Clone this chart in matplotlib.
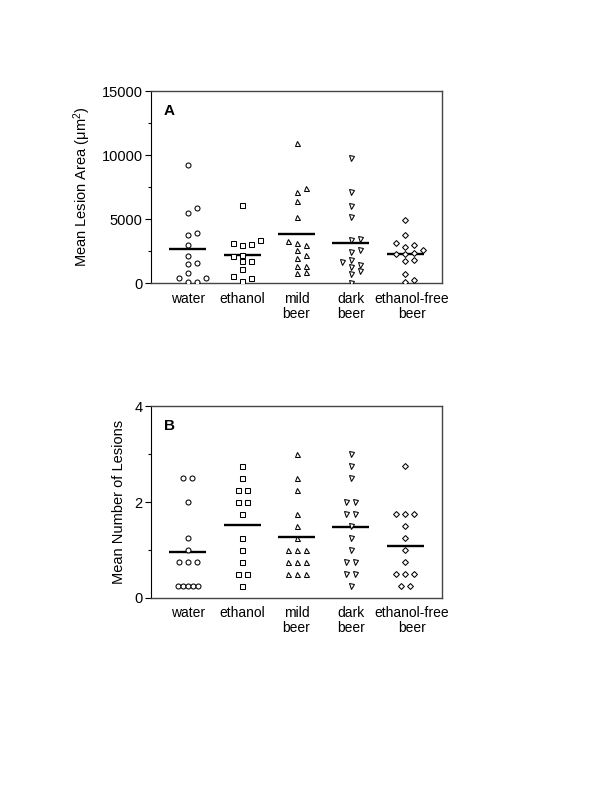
"""
Two-panel column scatter: lesion area (A) and lesion number (B) per group,
open markers per animal with a horizontal bar at the group mean.
"""
import numpy as np
import matplotlib
matplotlib.use("Agg")
import matplotlib.pyplot as plt
import matplotlib.transforms as mtransforms
from matplotlib.ticker import MultipleLocator

plt.rcParams["font.family"] = ["Liberation Sans", "DejaVu Sans"]
plt.rcParams["mathtext.default"] = "regular"

# =============================================================================
# DATA
# =============================================================================
groups = ["water", "ethanol", "mild\nbeer", "dark\nbeer", "ethanol-free\nbeer"]
markers = ["o", "s", "^", "v", "D"]

# Panel A -- mean lesion area (um^2), one value per animal
area_water = [9200, 5850, 5480, 3780, 3940, 2950, 2140, 1490, 1570, 810,
              440, 440, 80, 80]
area_ethanol = [6080, 3390, 3030, 2970, 3160, 2090, 2240, 1700, 1770, 1120,
                600, 420, 160]
area_mild = [10980, 7430, 7120, 6420, 5160, 3260, 2950, 3130, 2610, 2190,
             1980, 1330, 1330, 780, 860]
area_dark = [9750, 7120, 6050, 5160, 3340, 3420, 2610, 2450, 1640, 1850,
             1230, 1460, 990, 730, 50]
area_ef = [4900, 3730, 2950, 3160, 2790, 2560, 2350, 2300, 2270, 1850,
           1720, 700, 80, 260]
area_means = [2710, 2220, 3860, 3160, 2270]

# Panel B -- mean number of lesions, one value per animal
num_water = [2.5, 2.5, 2.0, 1.25, 1.0, 0.75, 0.75, 0.75,
             0.25, 0.25, 0.25, 0.25, 0.25]
num_ethanol = [2.75, 2.5, 2.25, 2.25, 2.0, 2.0, 1.75, 1.25, 1.0, 0.75,
               0.5, 0.5, 0.25]
num_mild = [3.0, 2.5, 2.25, 1.75, 1.5, 1.25, 1.0, 1.0, 1.0,
            0.75, 0.75, 0.75, 0.5, 0.5, 0.5]
num_dark = [3.0, 2.75, 2.5, 2.0, 2.0, 1.75, 1.75, 1.5, 1.25, 1.0,
            0.75, 0.75, 0.5, 0.5, 0.25]
num_ef = [2.75, 1.75, 1.75, 1.75, 1.5, 1.25, 1.0, 0.75,
          0.5, 0.5, 0.5, 0.25, 0.25]
num_means = [0.95, 1.52, 1.27, 1.48, 1.07]

area_data = [area_water, area_ethanol, area_mild, area_dark, area_ef]
num_data = [num_water, num_ethanol, num_mild, num_dark, num_ef]

# =============================================================================
# POINT PLACEMENT
# =============================================================================
PX_PER_GROUP = 54.3   # horizontal distance between group centres (pixels)


def swarm_offsets(vals, px_per_unit, step_px=9.0, min_px=6.0):
    """Greedy swarm: put each point in the nearest free column."""
    vals = np.asarray(vals, float)
    offs = np.zeros(len(vals))
    placed = []
    for i in np.argsort(vals):
        y = vals[i] * px_per_unit
        for k in [0, 1, -1, 2, -2, 3, -3]:
            x = k * step_px
            if all(np.hypot(x - px, y - py) >= min_px for px, py in placed):
                break
        placed.append((x, y))
        offs[i] = x / PX_PER_GROUP
    return offs


def row_offsets(vals, step_px=9.0, max_px=20.0):
    """Equal values sit side by side in a centred row."""
    vals = np.asarray(vals, float)
    offs = np.zeros(len(vals))
    for v in np.unique(vals):
        idx = np.where(vals == v)[0]
        n = len(idx)
        step = step_px if n < 2 else min(step_px, max_px / (n - 1))
        offs[idx] = (np.arange(n) - (n - 1) / 2) * step / PX_PER_GROUP
    return offs


def style_ax(ax, ymax, major, minor, ylabel, letter):
    ax.set_xlim(-0.68, 4.68)
    ax.set_ylim(0, ymax)
    ax.yaxis.set_major_locator(MultipleLocator(major))
    ax.yaxis.set_minor_locator(MultipleLocator(minor))
    ax.tick_params(axis="y", which="major", length=4, width=0.8,
                   labelsize=10.5, pad=2)
    ax.tick_params(axis="y", which="minor", length=2.5, width=0.8)
    ax.set_xticks(range(len(groups)))
    ax.set_xticklabels(groups, fontsize=10, linespacing=1.1)
    ax.tick_params(axis="x", length=0, pad=6)
    # last label sits a little right of its column, as in the original
    shift = mtransforms.ScaledTranslation(7 / 100, 0, ax.figure.dpi_scale_trans)
    last = ax.get_xticklabels()[-1]
    last.set_transform(last.get_transform() + shift)
    ax.set_ylabel(ylabel, fontsize=10.5, labelpad=6)
    for side in ["top", "right", "bottom"]:
        ax.spines[side].set_color("#444444")
        ax.spines[side].set_linewidth(1.0)
    ax.spines["left"].set_color("black")
    ax.text(0.045, 0.895, letter, transform=ax.transAxes, fontsize=11,
            fontweight="bold", va="center", ha="left")


def draw_panel(ax, data, means, offsets_fn):
    for i, vals in enumerate(data):
        x = i + offsets_fn(vals)
        ax.plot(x, vals, ls="none", marker=markers[i],
                ms=3.6 if markers[i] != "D" else 3.0,
                mfc="white", mec="black", mew=0.75, zorder=3)
        ax.hlines(means[i], i - 0.34, i + 0.34, color="black", lw=1.7,
                  zorder=2)


# =============================================================================
# FIGURE
# =============================================================================
fig = plt.figure(figsize=(6, 8), dpi=100)
fig.patch.set_facecolor("white")

axA = fig.add_axes([0.2517, 0.646, 0.485, 0.240])
axB = fig.add_axes([0.2517, 0.253, 0.485, 0.239])

px_per_area = 192.0 / 15000.0
draw_panel(axA, area_data, area_means,
           lambda v: swarm_offsets(v, px_per_area))
style_ax(axA, 15000, 5000, 2500, "Mean Lesion Area (μm$^2$)", "A")

draw_panel(axB, num_data, num_means, row_offsets)
style_ax(axB, 4, 2, 1, "Mean Number of Lesions", "B")

fig.savefig("out.png", dpi=100, facecolor="white")
